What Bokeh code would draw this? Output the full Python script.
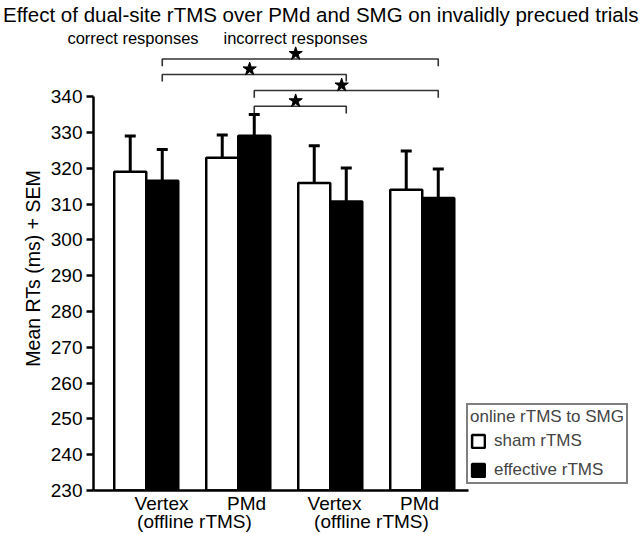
from bokeh.plotting import figure
from bokeh.models import (FixedTicker, Legend, LegendItem, Range1d, LinearAxis)
from bokeh.embed import file_html
from bokeh.resources import INLINE

FONT = "Liberation Sans"

# ---- data ----
groups = [1, 2, 3, 4]
group_names = ["Vertex", "PMd", "Vertex", "PMd"]
sham_mean = [319.0, 322.9, 315.9, 314.0]
sham_sem = [10.0, 6.4, 10.4, 10.8]
eff_mean = [316.5, 329.1, 310.7, 311.7]
eff_sem = [8.7, 5.9, 9.4, 8.1]
y_ticks = [230, 240, 250, 260, 270, 280, 290, 300, 310, 320, 330, 340]

# significant comparisons between effective-rTMS bars (group index a, group index b, bracket height)
comp_a = [0, 0, 1, 1]
comp_b = [3, 2, 3, 2]
comp_h = [350.5, 346.2, 341.7, 337.3]

title_text = "Effect of dual-site rTMS over PMd and SMG on invalidly precued trials"
subtitles = ["correct responses", "incorrect responses"]
legend_title = "online rTMS to SMG"
series_names = ["sham rTMS", "effective rTMS"]
offline_text = "(offline rTMS)"

# ---- geometry ----
bar_w = 0.348
x_start, x_end = 0.4266, 6.3723
y_start, y_end = 230, 354.0

sham_x = [g - bar_w / 2 for g in groups]
eff_x = [g + bar_w / 2 for g in groups]
sham_top = [m + s for m, s in zip(sham_mean, sham_sem)]
eff_top = [m + s for m, s in zip(eff_mean, eff_sem)]

p = figure(width=640, height=534, x_range=Range1d(x_start, x_end),
           y_range=Range1d(y_start, y_end), output_backend="svg",
           toolbar_location=None, title=title_text,
           min_border_left=93, min_border_right=0, min_border_top=46,
           min_border_bottom=43)
p.outline_line_color = None
p.xgrid.visible = False
p.ygrid.visible = False
p.background_fill_color = "white"

p.title.align = "right"
p.title.offset = 2
p.title.text_font = FONT
p.title.text_font_size = "20.5px"
p.title.text_font_style = "normal"
p.title.text_color = "black"
p.title.standoff = 0

# error bars (upper only)
p.segment(x0=sham_x + eff_x, y0=sham_mean + eff_mean, x1=sham_x + eff_x,
          y1=sham_top + eff_top, line_width=3, line_color="black")
p.scatter(x=sham_x + eff_x, y=sham_top + eff_top, marker="dash", size=11,
          line_width=3, line_color="black")

r_sham = p.vbar(x=sham_x, top=sham_mean, bottom=y_start, width=bar_w,
                fill_color="white", line_color="black", line_width=2.5)
r_eff = p.vbar(x=eff_x, top=eff_mean, bottom=y_start, width=bar_w,
               fill_color="black", line_color="black", line_width=2.5)

# significance brackets
drop = 2.0
bxs, bys, sx, sy = [], [], [], []
for a, b, h in zip(comp_a, comp_b, comp_h):
    xa, xb = eff_x[a], eff_x[b]
    bxs.append([xa, xa, xb, xb])
    bys.append([h - drop, h, h, h - drop])
    sx.append((xa + xb) / 2 - 0.05)
    sy.append(h + 1.5)
p.multi_line(xs=bxs, ys=bys, line_color="#333333", line_width=1.6)
p.scatter(x=sx, y=sy, marker="star", size=14, fill_color="black", line_color="black")

# y axis
p.yaxis.ticker = FixedTicker(ticks=y_ticks)
p.yaxis.bounds = (230, 340)
p.yaxis.minor_tick_line_color = None
p.yaxis.major_tick_out = 7
p.yaxis.major_tick_in = 0
p.yaxis.axis_line_width = 2.5
p.yaxis.major_tick_line_width = 2.5
p.yaxis.major_label_text_font = FONT
p.yaxis.major_label_text_font_size = "19px"
p.yaxis.major_label_text_color = "black"
p.yaxis.major_label_standoff = 4
p.yaxis.axis_label = "Mean RTs (ms) + SEM"
p.yaxis.axis_label_text_font = FONT
p.yaxis.axis_label_text_font_size = "19.5px"
p.yaxis.axis_label_text_font_style = "normal"
p.yaxis.axis_label_text_color = "black"
p.yaxis.axis_label_standoff = 4


def style_text_axis(ax, size, standoff):
    ax.minor_tick_line_color = None
    ax.major_tick_line_color = None
    ax.major_tick_out = 0
    ax.major_tick_in = 0
    ax.major_label_text_font = FONT
    ax.major_label_text_font_size = size
    ax.major_label_text_color = "black"
    ax.major_label_standoff = standoff


# x axis: first line of category labels
name_x = [1.166, 2.090, 3.046, 3.970]
p.xaxis.ticker = FixedTicker(ticks=name_x)
p.xaxis.major_label_overrides = {xx: nm for xx, nm in zip(name_x, group_names)}
p.xaxis.bounds = (x_start, 4.503)
p.xaxis.axis_line_width = 2.5
style_text_axis(p.xaxis[0], "19px", 2)

# second line of category labels
offline_x = [1.524, 3.448]
ax2 = LinearAxis(ticker=FixedTicker(ticks=offline_x),
                 major_label_overrides={xx: offline_text for xx in offline_x},
                 axis_line_color=None)
style_text_axis(ax2, "19px", -6)
p.add_layout(ax2, "below")

# subtitles above the plot area
sub_x = [0.856, 2.622]
ax_top = LinearAxis(ticker=FixedTicker(ticks=sub_x),
                    major_label_overrides={xx: t for xx, t in zip(sub_x, subtitles)},
                    axis_line_color=None)
style_text_axis(ax_top, "16.5px", 0)
p.add_layout(ax_top, "above")

legend = Legend(items=[LegendItem(label=series_names[0], renderers=[r_sham]),
                       LegendItem(label=series_names[1], renderers=[r_eff])],
                location=(373, 6), title=legend_title)
legend.title_text_font = FONT
legend.title_text_font_size = "17px"
legend.title_text_font_style = "normal"
legend.label_text_font = FONT
legend.label_text_font_size = "17px"
legend.border_line_color = "black"
legend.border_line_width = 2
legend.padding = 2
legend.spacing = 9
legend.glyph_width = 16
legend.glyph_height = 16
legend.label_height = 20
legend.label_standoff = 8
legend.margin = 0
legend.title_standoff = 4
p.add_layout(legend)

open("out.html", "w").write(file_html(p, INLINE))
